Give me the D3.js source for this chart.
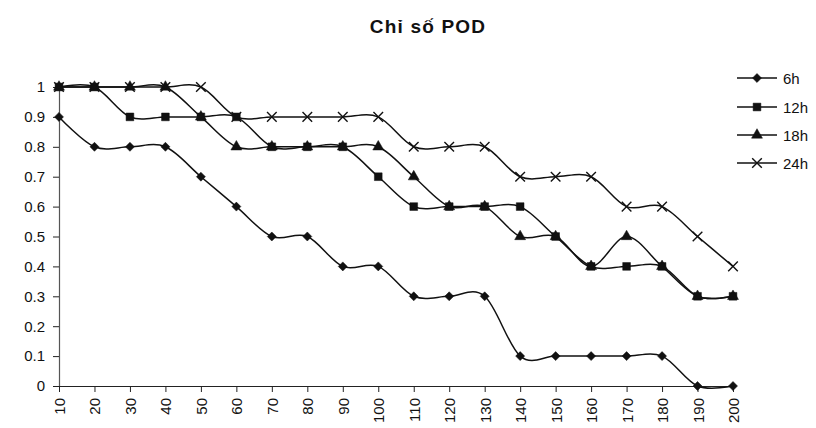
<!DOCTYPE html>
<html>
<head>
<meta charset="utf-8">
<script src="https://cdn.jsdelivr.net/npm/d3@7.9.0/dist/d3.min.js"></script>
<style>
  body { margin: 0; background: #fff; }
  svg { display: block; font-family: Arial, "Liberation Sans", sans-serif; }
</style>
</head>
<body>
<svg id="chart" width="816" height="428"></svg>
<script>
// Chart values
const xValues = [10, 20, 30, 40, 50, 60, 70, 80, 90, 100, 110, 120, 130, 140, 150, 160, 170, 180, 190, 200];
const s6h  = [0.9, 0.8, 0.8, 0.8, 0.7, 0.6, 0.5, 0.5, 0.4, 0.4, 0.3, 0.3, 0.3, 0.1, 0.1, 0.1, 0.1, 0.1, 0, 0];
const s12h = [1, 1, 0.9, 0.9, 0.9, 0.9, 0.8, 0.8, 0.8, 0.7, 0.6, 0.6, 0.6, 0.6, 0.5, 0.4, 0.4, 0.4, 0.3, 0.3];
const s18h = [1, 1, 1, 1, 0.9, 0.8, 0.8, 0.8, 0.8, 0.8, 0.7, 0.6, 0.6, 0.5, 0.5, 0.4, 0.5, 0.4, 0.3, 0.3];
const s24h = [1, 1, 1, 1, 1, 0.9, 0.9, 0.9, 0.9, 0.9, 0.8, 0.8, 0.8, 0.7, 0.7, 0.7, 0.6, 0.6, 0.5, 0.4];
const seriesNames = ['6h', '12h', '18h', '24h'];
const yTicks = [0, 0.1, 0.2, 0.3, 0.4, 0.5, 0.6, 0.7, 0.8, 0.9, 1];
const title = 'Chỉ số POD';

const svg = d3.select('#chart');

// Plot area
const plotLeft = 59, plotRight = 733, plotTop = 87, plotBottom = 386;

const x = d3.scaleLinear().domain([10, 200]).range([plotLeft, plotRight]);
const y = d3.scaleLinear().domain([0, 1]).range([plotBottom, plotTop]);

// Marker shape for each series
const symbols = [
  { type: d3.symbolDiamond2, size: 52, filled: true },
  { type: d3.symbolSquare, size: 60, filled: true },
  { type: d3.symbolTriangle, size: 52, filled: true },
  { type: d3.symbolTimes, size: 62, filled: false }
];
const allSeries = [s6h, s12h, s18h, s24h];

// Title
svg.append('text')
  .attr('x', 428)
  .attr('y', 33)
  .attr('text-anchor', 'middle')
  .attr('font-size', 19)
  .attr('font-weight', 'bold')
  .attr('letter-spacing', 1.2)
  .attr('fill', '#111')
  .text(title);

// Y axis
const yAxis = d3.axisLeft(y)
  .tickValues(yTicks)
  .tickSize(6)
  .tickPadding(8)
  .tickFormat(d => String(d));
const gy = svg.append('g')
  .attr('transform', `translate(${plotLeft},0)`)
  .call(yAxis);
gy.select('.domain').attr('stroke', '#555').attr('stroke-width', 1.2);
gy.selectAll('.tick line').attr('stroke', '#222');
gy.selectAll('.tick text').attr('font-size', 15).attr('fill', '#111').attr('font-family', 'Arial, "Liberation Sans", sans-serif');

// X axis with rotated labels
const xAxis = d3.axisBottom(x)
  .tickValues(xValues)
  .tickSize(6)
  .tickSizeOuter(0)
  .tickFormat(d => String(d));
const gx = svg.append('g')
  .attr('transform', `translate(0,${plotBottom})`)
  .call(xAxis);
gx.select('.domain').attr('stroke', '#222').attr('stroke-width', 1.2);
gx.selectAll('.tick line').attr('stroke', '#222');
gx.selectAll('.tick text')
  .attr('font-size', 15)
  .attr('fill', '#111')
  .attr('font-family', 'Arial, "Liberation Sans", sans-serif')
  .attr('text-anchor', 'end')
  .attr('dy', null)
  .attr('y', 0)
  .attr('transform', 'translate(0,12) rotate(-90)')
  .attr('dominant-baseline', 'central');

// Smoothed lines, like the spreadsheet's smooth line option
const line = d3.line()
  .x((d, i) => x(xValues[i]))
  .y(d => y(d))
  .curve(d3.curveCatmullRom.alpha(0));

allSeries.forEach((vals) => {
  svg.append('path')
    .attr('d', line(vals))
    .attr('fill', 'none')
    .attr('stroke', '#111')
    .attr('stroke-width', 1.5);
});

allSeries.forEach((vals, si) => {
  const sym = symbols[si];
  const gen = d3.symbol().type(sym.type).size(sym.size);
  svg.append('g').selectAll('path')
    .data(vals)
    .join('path')
    .attr('transform', (d, i) => `translate(${x(xValues[i])},${y(d)})`)
    .attr('d', gen())
    .attr('fill', sym.filled ? '#111' : 'none')
    .attr('stroke', '#111')
    .attr('stroke-width', sym.filled ? 0.5 : 1.4);
});

// Legend
const legendRows = [78, 107, 135, 163];
seriesNames.forEach((name, si) => {
  const g = svg.append('g').attr('transform', `translate(0,${legendRows[si]})`);
  g.append('line')
    .attr('x1', 737).attr('x2', 777)
    .attr('y1', 0).attr('y2', 0)
    .attr('stroke', '#111')
    .attr('stroke-width', 1.5);
  const sym = symbols[si];
  g.append('path')
    .attr('transform', 'translate(757,0)')
    .attr('d', d3.symbol().type(sym.type).size(sym.size)())
    .attr('fill', sym.filled ? '#111' : 'none')
    .attr('stroke', '#111')
    .attr('stroke-width', sym.filled ? 0.5 : 1.4);
  g.append('text')
    .attr('x', 783)
    .attr('y', 0)
    .attr('dominant-baseline', 'central')
    .attr('font-size', 15)
    .attr('fill', '#111')
    .text(name);
});
</script>
</body>
</html>
